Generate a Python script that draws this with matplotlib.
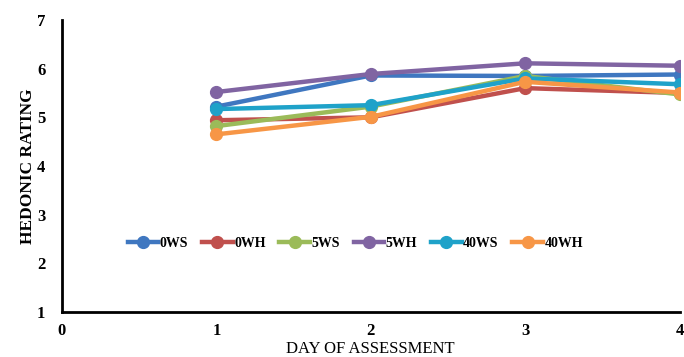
import matplotlib.pyplot as plt

days = [1, 2, 3, 4]
series_names = ["0WS", "0WH", "5WS", "5WH", "40WS", "40WH"]
ws0 = [5.22, 5.86, 5.85, 5.88]
wh0 = [4.94, 5.00, 5.60, 5.50]
ws5 = [4.82, 5.22, 5.85, 5.47]
wh5 = [5.52, 5.89, 6.11, 6.06]
ws40 = [5.17, 5.25, 5.80, 5.68]
wh40 = [4.65, 5.01, 5.73, 5.51]
colors = ["#3F77C0", "#C0504D", "#9BBB59", "#8064A2", "#1FA2C9", "#F79646"]

plt.rcParams['font.family'] = ['Liberation Serif', 'DejaVu Serif']

fig = plt.figure(figsize=(6.84, 3.57), dpi=100)
ax = fig.add_axes([0.0906, 0.126, 0.903, 0.818])

for name, vals, c in zip(series_names, [ws0, wh0, ws5, wh5, ws40, wh40], colors):
    ax.plot(days, vals, color=c, lw=3.2, marker='o', markersize=8.5, label=name)

ax.set_xlim(0, 4)
ax.set_ylim(1, 7)
ax.set_xticks([0, 1, 2, 3, 4])
ax.set_yticks([1, 2, 3, 4, 5, 6, 7])
ax.tick_params(length=0, labelsize=12)
ax.tick_params(axis='x', pad=8)
ax.tick_params(axis='y', pad=12)
for lbl in ax.get_xticklabels() + ax.get_yticklabels():
    lbl.set_fontweight('bold')

for s in ['top', 'right']:
    ax.spines[s].set_visible(False)
for s in ['left', 'bottom']:
    ax.spines[s].set_linewidth(2)

ax.set_xlabel("DAY OF ASSESSMENT", fontsize=12, labelpad=1)
ax.set_ylabel("HEDONIC RATING", fontsize=12.5, fontweight='bold', labelpad=1)

ax.legend(loc='center', bbox_to_anchor=(0.475, 0.235), ncol=6, frameon=False,
          prop={'weight': 'bold', 'size': 10}, handlelength=2.2,
          columnspacing=1.0, handletextpad=0.1)

fig.savefig("out.png", dpi=100)
